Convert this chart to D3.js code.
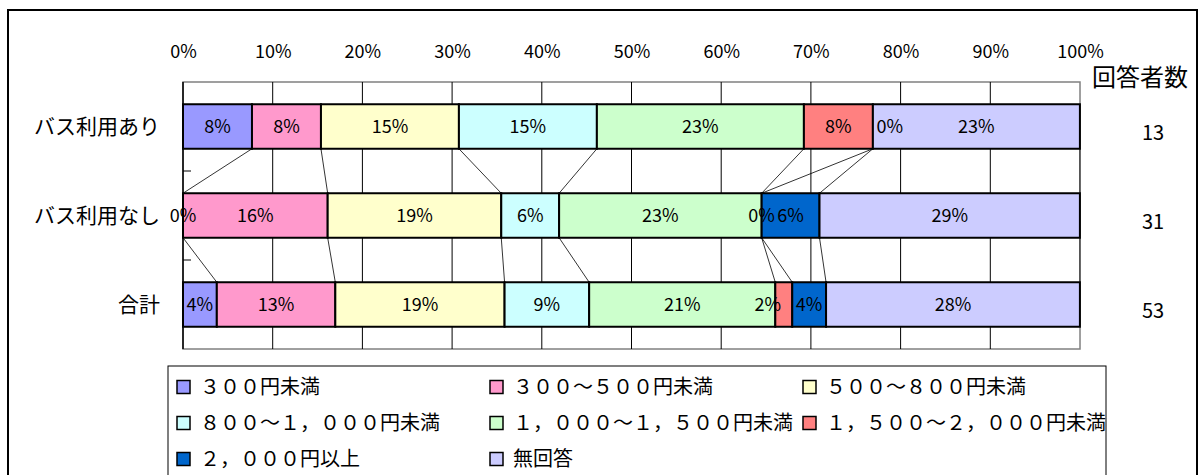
<!DOCTYPE html>
<html><head><meta charset="utf-8">
<script src="https://cdn.jsdelivr.net/npm/d3@7"></script>
<style>
html,body{margin:0;padding:0;background:#fff;}
svg{display:block;}
.num{font-family:"Noto Sans CJK JP",sans-serif;}
.jp{font-family:"Noto Sans CJK JP",sans-serif;}
.lg{font-family:"Noto Sans CJK JP",sans-serif;}
</style>
</head><body>
<svg id="chart" width="1203" height="475"></svg>
<script>
const categories = ["バス利用あり", "バス利用なし", "合計"];
const respondents = [13, 31, 53];
const seriesNames = ["３００円未満", "３００～５００円未満", "５００～８００円未満", "８００～１，０００円未満",
  "１，０００～１，５００円未満", "１，５００～２，０００円未満", "２，０００円以上", "無回答"];
const seriesColors = ["#9999FF", "#FF99CC", "#FFFFCC", "#CCFFFF", "#CCFFCC", "#FF8080", "#0066CC", "#CCCCFF"];
const under300   = [7.69, 0, 3.77];
const y300to500  = [7.69, 16.13, 13.21];
const y500to800  = [15.38, 19.35, 18.87];
const y800to1000 = [15.38, 6.45, 9.43];
const y1000to1500 = [23.08, 22.58, 20.75];
const y1500to2000 = [7.69, 0, 1.89];
const over2000   = [0, 6.45, 3.77];
const noAnswer   = [23.08, 29.03, 28.30];
const xTicks = [0, 10, 20, 30, 40, 50, 60, 70, 80, 90, 100];

const seriesValues = [under300, y300to500, y500to800, y800to1000, y1000to1500, y1500to2000, over2000, noAnswer];
const rows = categories.map((c, i) => {
  const o = {cat: c};
  seriesNames.forEach((s, j) => o[s] = seriesValues[j][i]);
  return o;
});
const stack = d3.stack().keys(seriesNames)(rows);

const svg = d3.select("#chart");
const L = 183, R = 1080, T = 82, B = 349;
const x = d3.scaleLinear().domain([0, 100]).range([L, R]);
const y = d3.scaleBand().domain(categories).range([T, B]).paddingInner(0.5).paddingOuter(0.25);

// outer frame
svg.append("rect").attr("x", 8).attr("y", 10).attr("width", 1189).attr("height", 480)
  .attr("fill", "none").attr("stroke", "#000").attr("stroke-width", 2);

// plot area
svg.append("rect").attr("x", L).attr("y", T).attr("width", R - L).attr("height", B - T)
  .attr("fill", "#fff").attr("stroke", "#808080").attr("stroke-width", 1.5);

// gridlines
svg.append("g").selectAll("line").data(xTicks.filter(d => d > 0 && d < 100)).join("line")
  .attr("x1", d => x(d)).attr("x2", d => x(d)).attr("y1", T).attr("y2", B)
  .attr("stroke", "#000").attr("stroke-width", 1);

// left axis
svg.append("line").attr("x1", L).attr("x2", L).attr("y1", T).attr("y2", B).attr("stroke", "#000").attr("stroke-width", 1.5);
const boundaries = [T + y.step(), T + 2 * y.step()];
svg.append("g").selectAll("line").data(boundaries).join("line")
  .attr("x1", L).attr("x2", L + 8).attr("y1", d => d).attr("y2", d => d).attr("stroke", "#000");

// top axis labels
const axis = d3.axisTop(x).tickValues(xTicks).tickFormat(d => d + "%").tickSize(0).tickPadding(0);
const ax = svg.append("g").attr("transform", `translate(0,58)`).call(axis);
ax.select(".domain").remove();
ax.selectAll("text").attr("class", "num").attr("font-size", 18).attr("fill", "#000").attr("font-family", null);

// series lines
const sl = svg.append("g");
stack.forEach(s => {
  for (let i = 0; i < categories.length - 1; i++) {
    sl.append("line")
      .attr("x1", x(s[i][1])).attr("y1", y(categories[i]) + y.bandwidth())
      .attr("x2", x(s[i + 1][1])).attr("y2", y(categories[i + 1]))
      .attr("stroke", "#000").attr("stroke-width", 0.8);
  }
});

// bars
stack.forEach((s, j) => {
  svg.append("g").selectAll("rect").data(s).join("rect")
    .attr("x", d => x(d[0])).attr("y", (d, i) => y(categories[i]))
    .attr("width", d => x(d[1]) - x(d[0])).attr("height", y.bandwidth())
    .attr("fill", seriesColors[j]).attr("stroke", "#000").attr("stroke-width", 2);
});
// labels (a couple of crowded labels are shifted sideways, as in the original)
const nudge = {"0|6": 17, "2|5": -16};
stack.forEach((s, j) => {
  svg.append("g").selectAll("text").data(s).join("text")
    .attr("class", "num")
    .attr("x", (d, i) => x((d[0] + d[1]) / 2) + (nudge[i + "|" + j] || 0))
    .attr("y", (d, i) => y(categories[i]) + y.bandwidth() / 2)
    .attr("text-anchor", "middle").attr("dy", "0.36em").attr("font-size", 18)
    .text(d => d3.format(".0f")(d[1] - d[0]) + "%");
});

// row labels
svg.append("g").selectAll("text").data(categories).join("text")
  .attr("class", "jp").attr("x", 160).attr("y", d => y(d) + y.bandwidth() / 2)
  .attr("text-anchor", "end").attr("dy", "0.36em").attr("font-size", 21).text(d => d);

// respondents
svg.append("text").attr("class", "jp").attr("x", 1140).attr("y", 77).attr("dy", "0.36em")
  .attr("text-anchor", "middle").attr("font-size", 24).text("回答者数");
svg.append("g").selectAll("text").data(respondents).join("text")
  .attr("class", "num").attr("x", 1153).attr("y", (d, i) => y(categories[i]) + y.bandwidth() / 2 + 6)
  .attr("text-anchor", "middle").attr("dy", "0.36em").attr("font-size", 20).text(d => d);

// legend
svg.append("rect").attr("x", 168).attr("y", 366).attr("width", 938).attr("height", 130)
  .attr("fill", "#fff").attr("stroke", "#000").attr("stroke-width", 1);
const colX = [177, 490, 803];
const rowY = [387, 423, 459];
const lg = svg.append("g").selectAll("g").data(seriesNames).join("g")
  .attr("transform", (d, i) => `translate(${colX[i % 3]},${rowY[Math.floor(i / 3)]})`);
lg.append("rect").attr("x", 0).attr("y", -6.5).attr("width", 13).attr("height", 13)
  .attr("fill", (d, i) => seriesColors[i]).attr("stroke", "#000").attr("stroke-width", 1.5);
lg.append("text").attr("class", "lg").attr("x", 23).attr("dy", "0.36em").attr("font-size", 20).text(d => d);
</script>
</body></html>
